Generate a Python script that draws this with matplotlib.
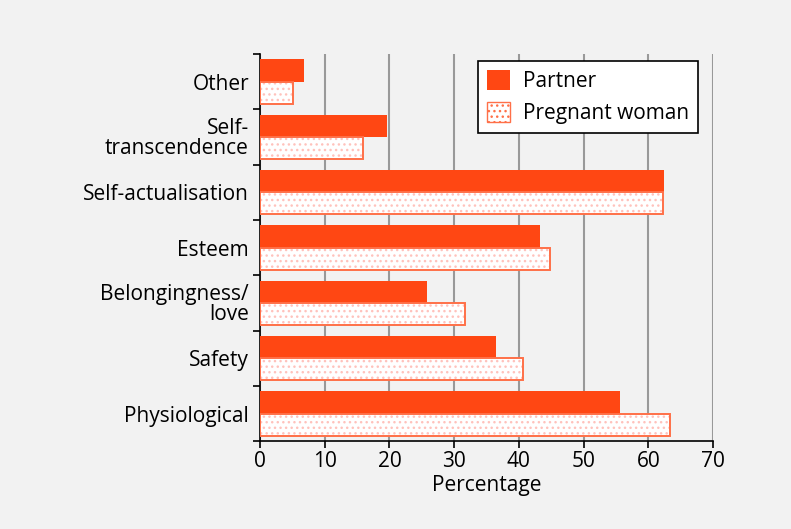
import numpy as np
import matplotlib
matplotlib.use("Agg")
import matplotlib.pyplot as plt
from matplotlib.patches import Patch

plt.rcParams['font.family'] = ['Open Sans', 'DejaVu Sans']
plt.rcParams['hatch.linewidth'] = 1.0

# data, bottom to top
categories = ["Physiological", "Safety", "Belongingness/\nlove", "Esteem",
              "Self-actualisation", "Self-\ntranscendence", "Other"]
partner = [55.6, 36.5, 25.8, 43.3, 62.4, 19.6, 6.8]
pregnant = [63.4, 40.6, 31.7, 44.8, 62.3, 15.9, 5.1]

bg = "#f2f2f2"
orange = "#ff4713"
edge = "#ff7048"
dots = "#ffc2bc"

fig = plt.figure(figsize=(7.91, 5.29), dpi=100, facecolor=bg)
ax = fig.add_axes([0.3287, 0.166, 0.5727, 0.732], facecolor=bg)

y = np.arange(len(categories))
h = 0.4
ax.barh(y + h / 2, partner, height=h, color=orange, zorder=3)
ax.barh(y - h / 2, pregnant, height=h, color="white", edgecolor=dots,
        hatch="...", linewidth=0, zorder=3)
ax.barh(y - h / 2, pregnant, height=h, fill=False, edgecolor=edge,
        linewidth=1.4, zorder=4)

ax.set_xlim(0, 70)
ax.set_ylim(-0.5, len(categories) - 0.5)
ax.set_xticks(np.arange(0, 71, 10))
ax.tick_params(axis="x", labelsize=15, length=5, width=1.2, pad=2)
ax.set_xlabel("Percentage", fontsize=15, labelpad=2)

ax.set_yticks(np.arange(-0.5, len(categories), 1))
ax.set_yticklabels([])
ax.tick_params(axis="y", length=5, width=1.2)
ax.set_yticks(y, minor=True)
ax.set_yticklabels(categories, minor=True, fontsize=15, linespacing=0.9)
ax.tick_params(axis="y", which="minor", length=0, pad=8)

ax.grid(axis="x", color="#999999", linewidth=1.5, zorder=0)
ax.set_axisbelow(True)
for s in ["top", "right"]:
    ax.spines[s].set_visible(False)
for s in ["left", "bottom"]:
    ax.spines[s].set_linewidth(1.2)

handles = [Patch(facecolor=orange, label="Partner"),
           Patch(facecolor="white", edgecolor=edge, hatch="...", label="Pregnant woman")]
leg = ax.legend(handles=handles, loc="upper right", bbox_to_anchor=(0.967, 0.982),
                borderaxespad=0, fontsize=15, frameon=True, fancybox=False,
                edgecolor="black", framealpha=1, handlelength=1.1, handleheight=1.1,
                labelspacing=0.45, borderpad=0.45, handletextpad=0.6)
leg.get_frame().set_linewidth(1.2)

fig.savefig("out.png", dpi=100, facecolor=bg)
